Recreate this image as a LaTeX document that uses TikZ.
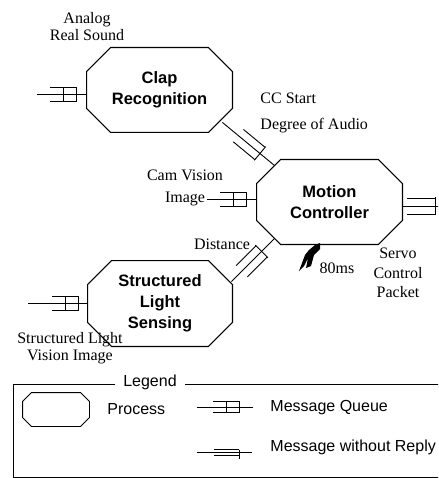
\documentclass[tikz,border=0pt]{standalone}
\usepackage{fontspec}
\setmainfont{Liberation Serif}
\newfontfamily\lsans{Liberation Sans}
\usetikzlibrary{calc}
\tikzset{
  proc/.style={minimum width=145pt, minimum height=84pt, inner sep=0pt, align=center,
    font=\lsans\bfseries\fontsize{16.5}{21}\selectfont},
  lbl/.style={inner sep=0pt, align=center, font=\fontsize{16}{17}\selectfont},
  leg/.style={inner sep=0pt, font=\lsans\fontsize{16}{18}\selectfont},
  octline/.style={line width=1.1pt},
  mqueue/.pic={
    \draw (-13,-7) -- (13,-7) -- (13,7) -- (-13,7);
    \draw (0,-7) -- (0,7);
  },
  mnr/.pic={
    \draw (-28,-8) -- (0,-8);
    \draw (-28,8) -- (0,8);
    \draw (0,-9) -- (0,9);
  },
  legmnr/.pic={
    \draw[line width=0.7pt] (-25,-2.5) -- (0,-2.5);
    \draw (-25,3) -- (0,3);
    \draw (0,-2.5) -- (0,7);
  },
}
\newcommand\drawoct[3][]{\draw[octline,#1] ([xshift=#3]#2.north west) -- ([xshift=-#3]#2.north east) -- ([yshift=-#3]#2.north east) -- ([yshift=#3]#2.south east) -- ([xshift=-#3]#2.south east) -- ([xshift=#3]#2.south west) -- ([yshift=#3]#2.south west) -- ([yshift=-#3]#2.north west) -- cycle;}
\begin{document}
\begin{tikzpicture}[x=1pt,y=-1pt,line width=0.9pt]
\clip (0,0) rectangle (438,478);
\fill[white] (0,0) rectangle (438,478);
% processes
\node[proc] (clap) at (159.5,90) {Clap\\Recognition};
\node[proc] (motion) at (329.5,202) {Motion\\Controller};
\node[proc, minimum width=144pt, minimum height=85pt] (sl) at (160,303.5) {Structured\\Light\\Sensing};
\drawoct{clap}{24pt}
\drawoct{motion}{24pt}
\drawoct{sl}{24pt}
% input queues
\coordinate (clapin) at (37,94);
\draw (clapin) -- (clapin -| clap.west);
\pic at (63,94) {mqueue};
\coordinate (camin) at (207,199);
\draw (camin) -- (camin -| motion.west);
\pic at (233,199) {mqueue};
\coordinate (slin) at (28,303);
\draw (slin) -- (slin -| sl.west);
\pic at (65,303) {mqueue};
% output
\coordinate (servo) at (440,206);
\draw (motion.east |- servo) -- (servo);
\pic at (435,206) {mnr};
% diagonal messages
\draw ([xshift=-10pt,yshift=10pt]clap.south east) -- ([xshift=18pt,yshift=-6pt]motion.north west) pic[pos=0.72,sloped] {mnr};
\draw ([xshift=-1pt,yshift=-21pt]sl.north east) -- ([xshift=18pt,yshift=6pt]motion.south west) pic[pos=0.7,sloped] {mnr};
% timer icon
\fill (299,271) -- (305,255) -- (309,250) -- (315,245) -- (320,243) -- (320,249) -- (314,255) -- (311,266) -- (306,268) -- (308,258) -- (304,266) -- cycle;
% labels
\node[lbl] (analog) at (87,26.5) {Analog\\Real Sound};
\node[lbl, anchor=west] (ccstart) at (260,98) {CC Start};
\node[lbl, anchor=west] (degree) at (260,126) {Degree of Audio};
\node[lbl, font=\fontsize{16}{22}\selectfont] (cam) at (185,188) {Cam Vision\\Image};
\node[lbl] (dist) at (222,244) {Distance};
\node[lbl] (ms) at (337,268) {80ms};
\node[lbl, font=\fontsize{16}{19.5}\selectfont] (servolbl) at (398,273) {Servo\\Control\\Packet};
\node[lbl] (slvis) at (70,348.5) {Structured Light\\Vision Image};
% legend
\node[draw, line width=0.8pt, anchor=north west, minimum width=440pt, minimum height=93pt, inner sep=0pt] (legbox) at (13,384) {};
\node[leg, fill=white, inner xsep=8pt] (legtitle) at (150,382) {Legend};
\node[minimum width=66pt, minimum height=33pt, inner sep=0pt] (legproc) at (56,409.5) {};
\drawoct[line width=0.9pt]{legproc}{9pt}
\node[leg, anchor=west] (tproc) at (107,409) {Process};
\coordinate (lqa) at (197,407);
\coordinate (lqb) at (253,407);
\draw (lqa) -- (lqb);
\pic[yscale=0.8] at (226,407) {mqueue};
\node[leg, anchor=west] (tqueue) at (270,408) {Message Queue};
\coordinate (lma) at (197,452);
\coordinate (lmb) at (252,452);
\draw (lma) -- (lmb);
\pic at (239,452) {legmnr};
\node[leg, anchor=west] (tmnr) at (270,447) {Message without Reply};
\end{tikzpicture}
\end{document}
